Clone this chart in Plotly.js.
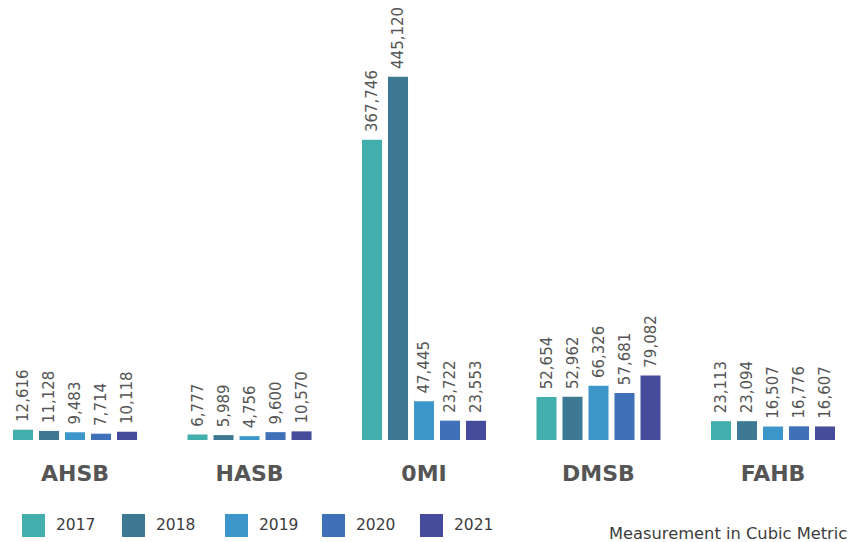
<!DOCTYPE html>
<html>
<head>
<meta charset="utf-8">
<script src="https://cdn.plot.ly/plotly-3.0.1.min.js"></script>
<style>
  html, body { margin: 0; padding: 0; background: #ffffff; }
  #chart { width: 855px; height: 542px; }
</style>
</head>
<body>
<div id="chart"></div>
<script>
// Sites along the x axis
const sites = ["AHSB", "HASB", "0MI", "DMSB", "FAHB"];

// Yearly volumes per site (cubic metres)
const years = ["2017", "2018", "2019", "2020", "2021"];
const v2017 = [12616, 6777, 367746, 52654, 23113];
const v2018 = [11128, 5989, 445120, 52962, 23094];
const v2019 = [9483, 4756, 47445, 66326, 16507];
const v2020 = [7714, 9600, 23722, 57681, 16776];
const v2021 = [10118, 10570, 23553, 79082, 16607];
const seriesValues = [v2017, v2018, v2019, v2020, v2021];

const yearColors = ["#42afad", "#3d7993", "#3c96ca", "#3f70b8", "#474b9c"];

// Leading no-break space keeps the rotated label a little off the bar top
const fmt = n => "\u00a0" + n.toLocaleString("en-US");

const traces = years.map((yr, i) => ({
  type: "bar",
  name: yr,
  x: sites,
  y: seriesValues[i],
  marker: { color: yearColors[i] },
  text: seriesValues[i].map(fmt),
  textposition: "outside",
  textangle: -90,
  cliponaxis: false,
  constraintext: "none",
  textfont: { family: "DejaVu Sans", size: 15, color: "#555555" },
  hoverinfo: "x+y+name",
  showlegend: false
}));

// Legend row: coloured squares with year captions
const shapes = [];
const annotations = [];
const legendX = [22, 122, 225, 322, 420];
years.forEach((yr, i) => {
  shapes.push({
    type: "rect", xref: "paper", yref: "paper",
    x0: legendX[i] / 855, x1: (legendX[i] + 23) / 855,
    y0: (440 - 537) / 440, y1: (440 - 514) / 440,
    fillcolor: yearColors[i], line: { width: 0 }
  });
  annotations.push({
    xref: "paper", yref: "paper",
    x: (legendX[i] + 32) / 855, y: (440 - 525) / 440,
    xanchor: "left", yanchor: "middle",
    text: yr, showarrow: false,
    font: { family: "DejaVu Sans", size: 15.5, color: "#3d3d3d" }
  });
});
annotations.push({
  xref: "paper", yref: "paper",
  x: 849 / 855, y: (440 - 533) / 440,
  xanchor: "right", yanchor: "middle",
  text: "Measurement in Cubic Metric", showarrow: false,
  font: { family: "DejaVu Sans", size: 16.3, color: "#3d3d3d" }
});

const layout = {
  width: 855,
  height: 542,
  margin: { l: 0, r: 0, t: 0, b: 102 },
  paper_bgcolor: "#ffffff",
  plot_bgcolor: "#ffffff",
  barmode: "group",
  bargap: 0.255,
  bargroupgap: 0.23,
  showlegend: false,
  xaxis: {
    type: "category",
    range: [-0.43, 4.47],
    showgrid: false,
    zeroline: false,
    showline: false,
    ticks: "",
    ticklabelstandoff: 18,
    tickfont: { family: "DejaVu Sans", size: 22, color: "#555555", weight: "bold" }
  },
  yaxis: {
    range: [0, 539100],
    visible: false,
    showgrid: false,
    zeroline: false,
    fixedrange: true
  },
  shapes: shapes,
  annotations: annotations
};

Plotly.newPlot("chart", traces, layout, { displayModeBar: false, staticPlot: true });
</script>
</body>
</html>
